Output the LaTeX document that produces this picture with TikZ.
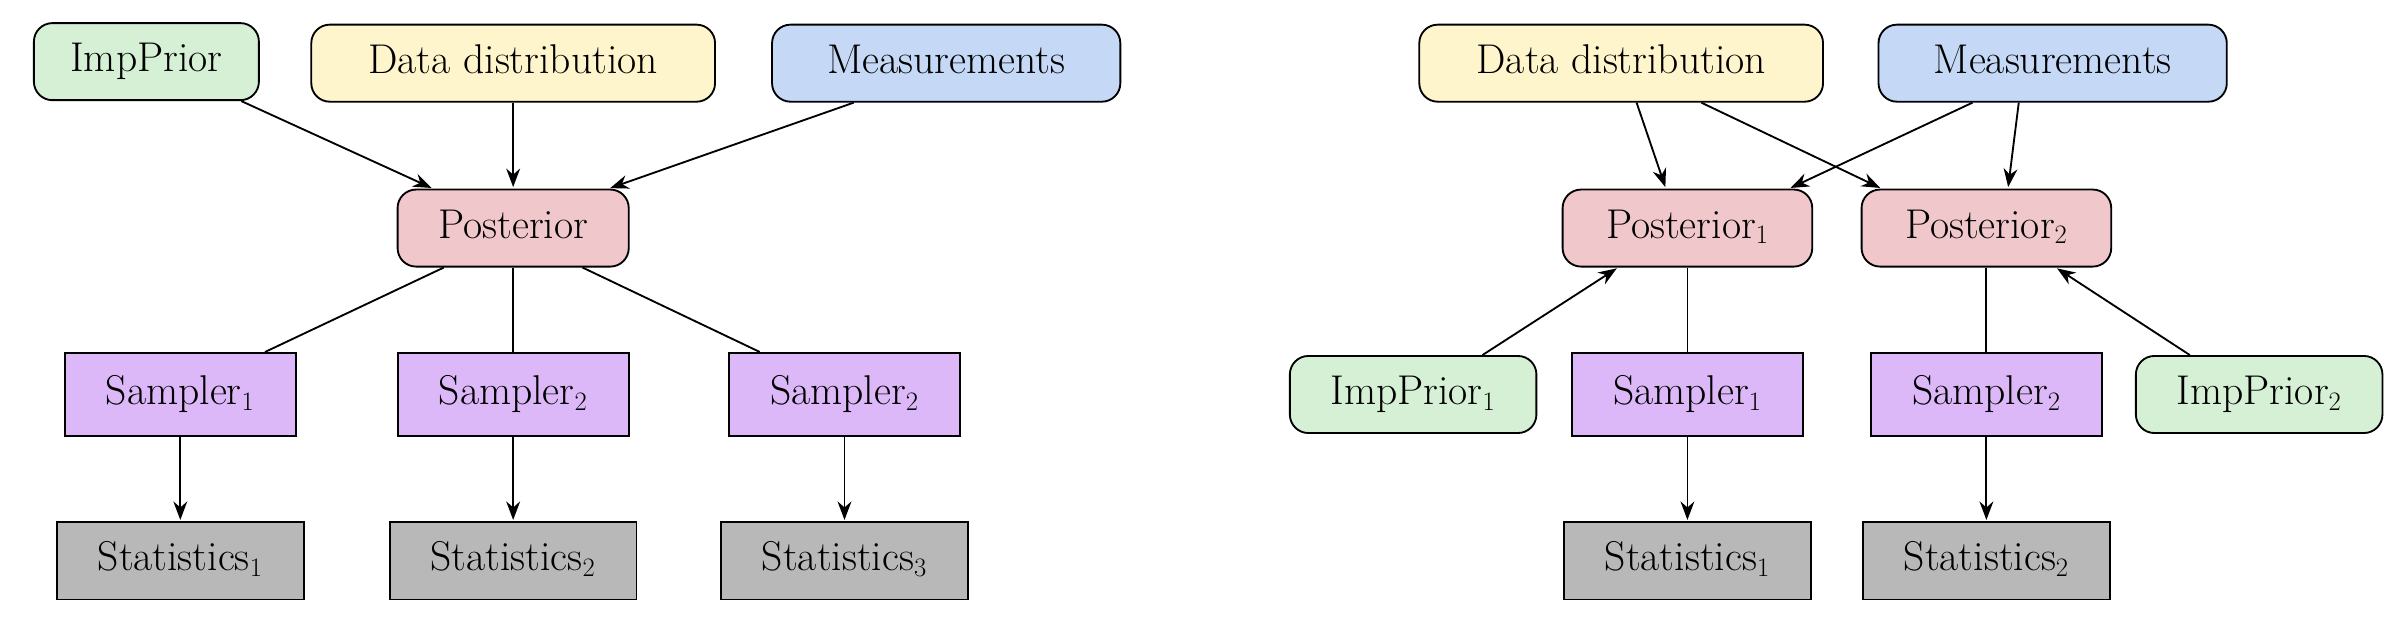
\documentclass[tikz,border=0pt]{standalone}
\usetikzlibrary{arrows.meta}
\definecolor{cg}{HTML}{D5F0D5}
\definecolor{cy}{HTML}{FFF5CC}
\definecolor{cb}{HTML}{C5D8F5}
\definecolor{cp}{HTML}{F0C8CC}
\definecolor{cv}{HTML}{DDB8F8}
\definecolor{cs}{HTML}{B8B8B8}
\begin{document}
\begin{tikzpicture}[x=1pt,y=-1pt,
  base/.style={draw,line width=1.2pt,minimum height=50pt,inner sep=4pt,font=\fontsize{27}{30}\selectfont,text height=19pt,text depth=6pt},
  rnd/.style={base,rounded corners=12pt},
  G/.style={rnd,fill=cg},Y/.style={rnd,fill=cy},B/.style={rnd,fill=cb},P/.style={rnd,fill=cp},
  V/.style={base,fill=cv,minimum width=150pt,minimum height=54pt},
  S/.style={base,fill=cs,minimum width=160pt},
  a/.style={-{Stealth[length=12pt,width=9pt]},line width=1.2pt,shorten >=1pt},
  l/.style={line width=1.2pt}]
\useasboundingbox (0,0) rectangle (1560,403);
% left
\node[G,minimum width=146pt] (ip) at (95,40) {ImpPrior};
\node[Y,minimum width=262pt] (dd) at (333,41) {Data distribution};
\node[B,minimum width=226pt] (me) at (614,41) {Measurements};
\node[P,minimum width=150pt] (po) at (333,148) {Posterior};
\node[V] (s1) at (117,256) {Sampler$_1$};
\node[V] (s2) at (333,256) {Sampler$_2$};
\node[V] (s3) at (548,256) {Sampler$_2$};
\node[S] (t1) at (117,364) {Statistics$_1$};
\node[S] (t2) at (333,364) {Statistics$_2$};
\node[S] (t3) at (548,364) {Statistics$_3$};
\draw[a] (ip.south east) ++(-12,0) -- ([xshift=-52pt]po.north);
\draw[a] (dd) -- (po);
\draw[a] ([xshift=-60pt]me.south) -- ([xshift=62pt]po.north);
\draw[l] ([xshift=-45pt]po.south) -- ([xshift=55pt]s1.north);
\draw[l] (po) -- (s2);
\draw[l] ([xshift=45pt]po.south) -- ([xshift=-55pt]s3.north);
\draw[a] (s1) -- (t1);
\draw[a] (s2) -- (t2);
\draw[a] (s3) -- (t3);
% right
\node[Y,minimum width=262pt] (rd) at (1052,41) {Data distribution};
\node[B,minimum width=226pt] (rm) at (1332,41) {Measurements};
\node[P,minimum width=162pt] (p1) at (1095,148) {Posterior$_1$};
\node[P,minimum width=162pt] (p2) at (1289,148) {Posterior$_2$};
\node[G,minimum width=160pt] (i1) at (917,256) {ImpPrior$_1$};
\node[V] (r1) at (1095,256) {Sampler$_1$};
\node[V] (r2) at (1289,256) {Sampler$_2$};
\node[G,minimum width=160pt] (i2) at (1466,256) {ImpPrior$_2$};
\node[S] (u1) at (1095,364) {Statistics$_1$};
\node[S] (u2) at (1289,364) {Statistics$_2$};
\draw[a] ([xshift=10pt]rd.south) -- ([xshift=-14pt]p1.north);
\draw[a] ([xshift=52pt]rd.south) -- ([xshift=-68pt]p2.north);
\draw[a] ([xshift=-52pt]rm.south) -- ([xshift=66pt]p1.north);
\draw[a] ([xshift=-22pt]rm.south) -- ([xshift=14pt]p2.north);
\draw[a] ([xshift=45pt]i1.north) -- ([xshift=-45pt]p1.south);
\draw[a] ([xshift=-45pt]i2.north) -- ([xshift=45pt]p2.south);
\draw[l] (p1) -- (r1);
\draw[l] (p2) -- (r2);
\draw[a] (r1) -- (u1);
\draw[a] (r2) -- (u2);
\end{tikzpicture}
\end{document}
